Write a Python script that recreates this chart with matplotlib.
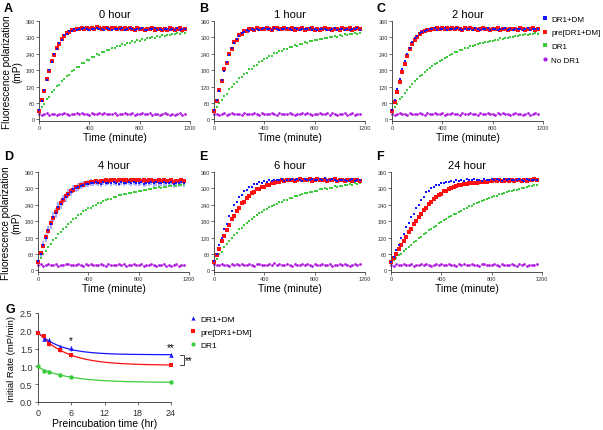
import numpy as np
import matplotlib.pyplot as plt
from matplotlib.lines import Line2D

plt.rcParams['font.family'] = ['Liberation Sans', 'DejaVu Sans']

# time axis of the kinetic reads (minutes)
time_min = np.arange(0, 1161, 20)

# ---- panel A : 0 hour ----
a_dm = [33, 68, 106, 143, 181, 209, 238, 259, 281, 292,
        307, 314, 322, 324, 329, 327, 331, 329, 333, 330,
        328, 332, 330, 334, 329, 331, 327, 333, 330, 328,
        332, 329, 331, 334, 328, 330, 333, 329, 327, 331,
        330, 334, 328, 326, 331, 329, 333, 327, 330, 328,
        332, 329, 326, 331, 328, 333, 327, 330, 332]
a_pre = [30, 71, 104, 146, 178, 212, 235, 263, 277, 295,
         304, 317, 320, 326, 327, 331, 329, 334, 331, 336,
         332, 335, 330, 337, 333, 331, 336, 334, 330, 335,
         333, 331, 336, 330, 333, 329, 334, 331, 328, 333,
         330, 332, 327, 331, 329, 334, 328, 331, 329, 326,
         331, 328, 333, 329, 326, 330, 334, 328, 331]
a_dr1 = [28, 47, 56, 74, 82, 99, 106, 121, 127, 142,
         146, 160, 163, 176, 179, 191, 193, 205, 206, 217,
         218, 228, 228, 238, 237, 247, 246, 255, 253, 263,
         261, 269, 267, 275, 273, 281, 279, 286, 284, 290,
         288, 294, 292, 298, 296, 301, 299, 304, 302, 307,
         305, 310, 308, 312, 311, 315, 313, 318, 316]
a_none = [20, 15, 18, 22, 17, 19, 21, 16, 20, 18,
          23, 19, 17, 21, 20, 24, 18, 22, 19, 21,
          17, 23, 20, 18, 22, 19, 25, 21, 18, 20,
          22, 17, 21, 19, 23, 20, 18, 22, 16, 21,
          19, 24, 18, 20, 22, 17, 21, 19, 15, 20,
          23, 18, 16, 21, 17, 19, 24, 16, 18]

# ---- panel B : 1 hour ----
b_dm = [35, 70, 103, 145, 176, 211, 234, 262, 278, 294,
        305, 316, 319, 326, 325, 330, 328, 332, 327, 331,
        333, 329, 332, 328, 334, 330, 327, 332, 329, 335,
        331, 328, 333, 330, 326, 332, 329, 331, 334, 328,
        330, 327, 332, 329, 331, 328, 326, 330, 333, 327,
        329, 332, 328, 330, 326, 331, 329, 334, 328]
b_pre = [31, 66, 108, 141, 183, 206, 240, 257, 283, 290,
         309, 312, 324, 322, 330, 331, 328, 334, 330, 332,
         329, 335, 331, 328, 333, 336, 330, 332, 334, 329,
         331, 333, 328, 332, 330, 335, 327, 331, 329, 333,
         328, 331, 327, 330, 334, 329, 332, 326, 330, 331,
         328, 333, 329, 331, 336, 327, 330, 333, 329]
b_dr1 = [30, 44, 59, 70, 86, 94, 110, 117, 131, 137,
         150, 155, 167, 171, 183, 186, 197, 200, 210, 212,
         222, 223, 232, 233, 242, 242, 250, 250, 258, 258,
         265, 264, 271, 270, 277, 276, 282, 281, 287, 285,
         291, 289, 295, 293, 299, 296, 302, 300, 305, 303,
         308, 306, 311, 309, 313, 312, 316, 314, 317]
b_none = [18, 21, 17, 20, 23, 16, 19, 22, 18, 21,
          20, 17, 24, 19, 21, 18, 22, 20, 16, 23,
          19, 21, 18, 25, 20, 17, 22, 19, 21, 18,
          23, 20, 17, 21, 19, 24, 18, 22, 20, 16,
          21, 19, 23, 18, 20, 22, 17, 24, 19, 15,
          21, 18, 22, 17, 20, 25, 16, 19, 21]

# ---- panel C : 2 hour ----
c_dm = [34, 72, 110, 148, 183, 213, 240, 262, 282, 296,
        306, 316, 321, 325, 328, 330, 329, 333, 328, 331,
        330, 334, 328, 332, 329, 331, 334, 330, 327, 332,
        329, 331, 328, 333, 330, 327, 331, 329, 334, 328,
        330, 332, 327, 331, 329, 333, 328, 330, 326, 331,
        329, 332, 327, 330, 333, 328, 331, 329, 330]
c_pre = [30, 63, 100, 137, 172, 203, 231, 256, 274, 291,
         302, 312, 319, 323, 328, 327, 332, 330, 335, 329,
         333, 331, 336, 330, 333, 329, 334, 331, 328, 333,
         330, 335, 329, 332, 328, 331, 333, 329, 331, 327,
         332, 329, 334, 328, 331, 330, 327, 332, 329, 331,
         328, 333, 330, 327, 331, 329, 333, 328, 331]
c_dr1 = [29, 45, 57, 73, 83, 97, 107, 120, 128, 140,
         147, 158, 164, 174, 180, 189, 194, 203, 207, 215,
         219, 226, 229, 236, 239, 245, 247, 253, 255, 261,
         262, 267, 268, 273, 274, 279, 279, 284, 284, 288,
         288, 292, 292, 296, 295, 299, 298, 302, 301, 305,
         304, 308, 307, 311, 309, 313, 312, 316, 314]
c_none = [21, 17, 19, 23, 18, 20, 16, 22, 19, 21,
          18, 24, 20, 17, 22, 19, 21, 25, 18, 20,
          22, 17, 21, 19, 23, 18, 20, 16, 22, 19,
          21, 24, 18, 20, 17, 22, 19, 21, 23, 18,
          20, 17, 22, 19, 25, 18, 21, 16, 20, 23,
          18, 21, 15, 19, 22, 17, 20, 24, 18]

# ---- panel D : 4 hour ----
d_dm = [34, 60, 94, 118, 149, 169, 195, 211, 232, 243,
        260, 268, 281, 287, 297, 300, 306, 309, 313, 316,
        317, 321, 318, 322, 320, 317, 323, 319, 321, 318,
        322, 320, 317, 323, 319, 321, 324, 318, 322, 320,
        319, 323, 317, 321, 320, 324, 318, 322, 319, 321,
        323, 318, 320, 322, 317, 321, 319, 323, 320]
d_dm_sd = [8, 10, 12, 14, 15, 16, 17, 18, 18, 17,
           17, 16, 16, 15, 15, 14, 14, 13, 13, 12,
           12, 12, 11, 11, 11, 11, 10, 10, 10, 10,
           10, 10, 10, 10, 10, 10, 10, 11, 11, 11,
           11, 11, 12, 12, 12, 12, 13, 13, 13, 13,
           14, 14, 14, 14, 15, 15, 15, 15, 15]
d_pre = [30, 64, 90, 122, 145, 173, 191, 215, 228, 247,
         256, 272, 279, 291, 295, 304, 306, 313, 314, 319,
         321, 325, 323, 327, 325, 328, 326, 330, 327, 329,
         331, 328, 330, 332, 329, 331, 328, 330, 332, 329,
         331, 328, 330, 327, 329, 331, 328, 326, 330, 327,
         329, 326, 328, 330, 325, 328, 326, 329, 327]
d_dr1 = [30, 44, 60, 71, 86, 97, 111, 120, 133, 141,
         153, 160, 171, 177, 188, 193, 203, 207, 216, 220,
         227, 230, 237, 240, 246, 248, 254, 256, 261, 263,
         268, 269, 274, 275, 279, 280, 284, 284, 288, 288,
         292, 291, 295, 294, 298, 297, 301, 300, 304, 302,
         306, 305, 309, 307, 311, 310, 313, 312, 315]
d_none = [19, 22, 17, 21, 24, 18, 20, 23, 17, 21,
          19, 22, 25, 18, 21, 20, 23, 19, 17, 22,
          20, 24, 18, 21, 19, 23, 20, 17, 22, 19,
          21, 18, 24, 20, 22, 17, 21, 19, 23, 18,
          20, 22, 17, 21, 19, 24, 18, 16, 21, 19,
          22, 17, 20, 15, 19, 23, 17, 21, 18]

# ---- panel E : 6 hour ----
e_dm = [33, 60, 94, 119, 150, 171, 198, 218, 241, 252,
        269, 277, 290, 294, 304, 306, 315, 316, 322, 321,
        327, 325, 330, 327, 332, 329, 331, 334, 328, 332,
        330, 335, 329, 333, 331, 328, 334, 330, 332, 336,
        331, 329, 334, 330, 337, 332, 329, 333, 330, 328,
        332, 329, 331, 327, 330, 333, 328, 331, 329]
e_pre = [30, 57, 78, 106, 124, 149, 165, 187, 200, 219,
         229, 245, 252, 266, 271, 283, 286, 296, 297, 306,
         306, 314, 313, 320, 319, 325, 323, 329, 326, 331,
         329, 332, 328, 331, 333, 329, 332, 330, 334, 328,
         331, 333, 329, 332, 330, 327, 331, 329, 333, 328,
         330, 332, 327, 331, 329, 326, 330, 332, 328]
e_dr1 = [31, 43, 59, 69, 85, 95, 109, 117, 131, 137,
         150, 156, 166, 172, 182, 187, 196, 201, 209, 213,
         221, 224, 232, 234, 241, 243, 250, 251, 258, 259,
         265, 266, 271, 272, 277, 278, 283, 283, 288, 288,
         292, 292, 296, 296, 300, 299, 303, 302, 307, 305,
         310, 308, 313, 311, 315, 314, 318, 316, 320]
e_none = [22, 18, 20, 24, 19, 21, 17, 23, 20, 22,
          18, 25, 21, 19, 23, 20, 17, 22, 24, 19,
          21, 18, 23, 20, 26, 19, 22, 18, 21, 24,
          20, 17, 23, 21, 19, 22, 18, 25, 20, 17,
          22, 19, 21, 24, 18, 20, 23, 17, 21, 19,
          22, 18, 24, 20, 17, 21, 25, 19, 22]

# ---- panel F : 24 hour ----
f_dm = [31, 48, 74, 92, 117, 134, 157, 172, 194, 208,
        228, 240, 259, 269, 285, 291, 303, 305, 314, 313,
        320, 318, 324, 322, 327, 324, 329, 326, 331, 328,
        333, 329, 331, 334, 330, 332, 328, 335, 331, 329,
        333, 330, 336, 331, 328, 333, 330, 334, 329, 332,
        330, 335, 331, 328, 333, 330, 332, 329, 331]
f_pre = [29, 46, 59, 77, 91, 109, 122, 139, 152, 168,
         180, 195, 206, 220, 229, 242, 250, 261, 267, 276,
         281, 289, 292, 299, 301, 306, 307, 311, 312, 315,
         315, 318, 318, 321, 320, 323, 322, 325, 324, 327,
         326, 329, 327, 330, 328, 326, 330, 328, 331, 327,
         329, 332, 328, 330, 327, 331, 329, 333, 330]
f_dr1 = [30, 39, 45, 55, 61, 71, 77, 87, 93, 103,
         109, 118, 123, 132, 137, 146, 151, 160, 164, 172,
         176, 184, 188, 195, 198, 205, 208, 215, 218, 225,
         228, 234, 237, 243, 246, 251, 253, 258, 260, 265,
         267, 272, 273, 278, 279, 283, 285, 289, 290, 294,
         295, 299, 300, 303, 304, 307, 308, 311, 312]
f_none = [20, 17, 22, 19, 21, 24, 18, 20, 23, 17,
          21, 19, 22, 18, 25, 20, 17, 21, 23, 19,
          22, 18, 20, 24, 19, 21, 17, 23, 20, 22,
          18, 21, 25, 19, 20, 17, 22, 24, 18, 21,
          19, 23, 20, 17, 22, 19, 21, 18, 24, 20,
          17, 22, 19, 23, 16, 21, 18, 20, 22]

# ---- panel G : initial rates ----
pre_hr = [0, 1, 2, 4, 6, 24]
rate_dm = [1.98, 1.77, 1.73, 1.54, 1.51, 1.32]
rate_dm_err = [0.05, 0.04, 0.06, 0.05, 0.07, 0.06]
rate_pre = [1.94, 1.84, 1.63, 1.46, 1.31, 1.04]
rate_pre_err = [0.06, 0.05, 0.06, 0.05, 0.05, 0.03]
rate_dr1 = [1.00, 0.87, 0.85, 0.76, 0.71, 0.55]
rate_dr1_err = [0.04, 0.04, 0.04, 0.05, 0.03, 0.03]

labels = ['DR1+DM', 'pre[DR1+DM]', 'DR1', 'No DR1']
c_blue, c_red, c_green, c_purple = '#1515ff', '#ff1010', '#3ccc3c', '#b01de0'

W, H = 603, 431
fig = plt.figure(figsize=(W / 100, H / 100), dpi=100)


def px_axes(left, top, width, height):
    return fig.add_axes([left / W, 1 - (top + height) / H, width / W, height / H])


def style(ax):
    for s in ['top', 'right']:
        ax.spines[s].set_visible(False)
    for s in ['left', 'bottom']:
        ax.spines[s].set_linewidth(0.6)
        ax.spines[s].set_color('#333333')
    ax.tick_params(labelsize=4, length=2, width=0.5, pad=1, colors='#333333')


def kinetics(ax, title, dm, pre, dr1, none, dm_sd=None):
    if dm_sd is not None:
        ax.errorbar(time_min, dm, yerr=dm_sd, fmt='none', ecolor='#a0a0ff',
                    elinewidth=1.2, capsize=0, zorder=1)
    ax.plot(time_min, dr1, 's', color=c_green, ms=1.8, mew=0, zorder=2, clip_on=False)
    ax.plot(time_min, none, 'o', color=c_purple, ms=2.0, mew=0, zorder=2, clip_on=False)
    ax.plot(time_min, pre, 's', color=c_red, ms=2.5, mew=0, zorder=3, clip_on=False)
    ax.plot(time_min, dm, 's', color=c_blue, ms=2.0, mew=0, zorder=4, clip_on=False)
    ax.set_xlim(0, 1200)
    ax.set_ylim(-6, 360)
    ax.set_xticks([0, 400, 800, 1200])
    ax.set_yticks([0, 60, 120, 180, 240, 300, 360])
    ax.set_title(title, fontsize=8, pad=3)
    ax.set_xlabel('Time (minute)', fontsize=7.5, labelpad=1)
    style(ax)


panels = [
    ('A', 39, 22, 4, 3, '0 hour', a_dm, a_pre, a_dr1, a_none, None),
    ('B', 214, 22, 199, 3, '1 hour', b_dm, b_pre, b_dr1, b_none, None),
    ('C', 392, 22, 376, 3, '2 hour', c_dm, c_pre, c_dr1, c_none, None),
    ('D', 38, 173, 4, 151, '4 hour', d_dm, d_pre, d_dr1, d_none, d_dm_sd),
    ('E', 214, 173, 199, 151, '6 hour', e_dm, e_pre, e_dr1, e_none, None),
    ('F', 391, 173, 376, 151, '24 hour', f_dm, f_pre, f_dr1, f_none, None),
]
axes = {}
for letter, left, top, lx, ly, title, dm, pre, dr1, none, sd in panels:
    ax = px_axes(left, top, 151, 100)
    kinetics(ax, title, dm, pre, dr1, none, sd)
    fig.text(lx / W, 1 - ly / H, letter, fontsize=9, fontweight='bold',
             ha='left', va='top')
    axes[letter] = ax

for letter in ['A', 'D']:
    axes[letter].set_ylabel('Fluorescence polarization\n(mP)', fontsize=7.2,
                            labelpad=2, linespacing=1.1)

handles = [Line2D([], [], ls='none', marker='s', color=c_blue, ms=2.5, mew=0),
           Line2D([], [], ls='none', marker='s', color=c_red, ms=3.5, mew=0),
           Line2D([], [], ls='none', marker='s', color=c_green, ms=2.5, mew=0),
           Line2D([], [], ls='none', marker='o', color=c_purple, ms=3, mew=0)]
fig.legend(handles, labels, loc='upper left', bbox_to_anchor=(539 / W, 1 - 12 / H),
           frameon=False, fontsize=5.8, handlelength=0.6, handletextpad=0.4,
           labelspacing=0.75, borderpad=0)

# ---- panel G ----
axg = px_axes(38, 314, 133, 89)
grid = np.linspace(0, 24, 200)
rows = [(rate_dm, rate_dm_err, c_blue, '^', 3.2),
        (rate_pre, rate_pre_err, c_red, 's', 3.2),
        (rate_dr1, rate_dr1_err, c_green, 'o', 3.2)]
hr = np.array(pre_hr, float)
for vals, err, col, mk, ms in rows:
    v = np.array(vals)
    # one-phase decay fit: grid search on k, linear least squares for the rest
    best = None
    for k in np.linspace(0.02, 1.5, 300):
        A = np.column_stack([np.ones_like(hr), np.exp(-k * hr)])
        coef, res, *_ = np.linalg.lstsq(A, v, rcond=None)
        sse = np.sum((A @ coef - v) ** 2)
        if best is None or sse < best[0]:
            best = (sse, k, coef)
    _, k, coef = best
    axg.plot(grid, coef[0] + coef[1] * np.exp(-k * grid), color=col, lw=0.9, zorder=2)
    axg.errorbar(pre_hr, vals, yerr=err, fmt=mk, color=col, ms=ms, mew=0,
                 elinewidth=0.8, capsize=1.5, capthick=0.8, zorder=3, clip_on=False)
axg.set_xlim(0, 24)
axg.set_ylim(0, 2.5)
axg.set_xticks([0, 6, 12, 18, 24])
axg.set_yticks([0.0, 0.5, 1.0, 1.5, 2.0, 2.5])
axg.set_yticklabels(['0.0', '0.5', '1.0', '1.5', '2.0', '2.5'])
style(axg)
axg.tick_params(labelsize=6.5, length=2.5, pad=1.5)
axg.set_xlabel('Preincubation time (hr)', fontsize=7.5, labelpad=1)
axg.set_ylabel('Initial Rate (mP/min)', fontsize=6.8, labelpad=3)
fig.text(5 / W, 1 - 304 / H, 'G', fontsize=9, fontweight='bold', ha='left', va='top')

axg.text(6, 1.60, '*', ha='center', va='bottom', fontsize=7)
axg.text(24, 1.40, '**', ha='center', va='bottom', fontsize=7)
axg.plot([25.7, 26.3, 26.3, 25.7], [1.32, 1.32, 1.04, 1.04], color='#222222',
         lw=0.6, clip_on=False)
axg.text(26.5, 1.18, '**', ha='left', va='center', fontsize=7)

g_handles = [Line2D([], [], ls='none', marker='^', color=c_blue, ms=3, mew=0),
             Line2D([], [], ls='none', marker='s', color=c_red, ms=3, mew=0),
             Line2D([], [], ls='none', marker='o', color=c_green, ms=3, mew=0)]
fig.legend(g_handles, labels[:3], loc='upper left', bbox_to_anchor=(186 / W, 1 - 312 / H),
           frameon=False, fontsize=6, handlelength=0.6, handletextpad=0.6,
           labelspacing=0.6, borderpad=0)

fig.savefig('out.png', dpi=100)
